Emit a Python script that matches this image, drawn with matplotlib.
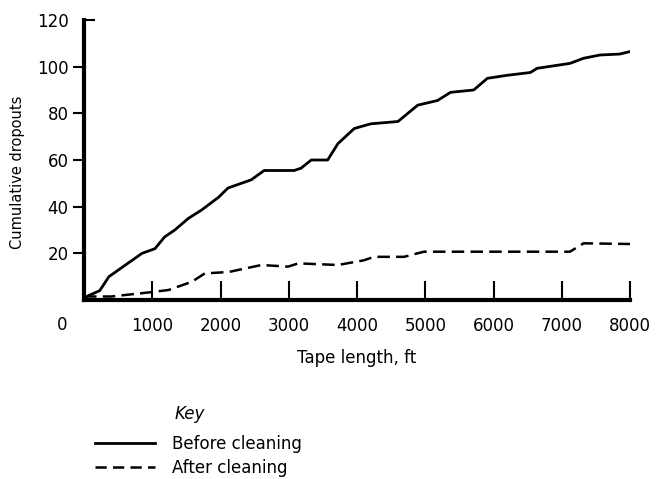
import matplotlib
matplotlib.use("Agg")
import matplotlib.pyplot as plt
from matplotlib.lines import Line2D, TICKRIGHT

# tape length (ft) / cumulative dropouts
before_x = [0, 230, 365, 850, 1040, 1180, 1330, 1530, 1720, 1970, 2110, 2450,
            2640, 3080, 3180, 3330, 3570, 3720, 3960, 4200, 4600, 4890, 5180,
            5370, 5710, 5910, 6200, 6540, 6640, 7120, 7320, 7560, 7850, 8030]
before_y = [1, 4, 10, 20, 22, 27, 30, 35, 38.5, 44, 48, 51.5,
            55.5, 55.5, 56.5, 60, 60, 67, 73.5, 75.5, 76.5, 83.5, 85.5,
            89, 90, 95, 96.3, 97.5, 99.3, 101.4, 103.6, 105, 105.4, 106.7]

after_x = [0, 400, 1000, 1240, 1580, 1770, 2120, 2600, 2990, 3140, 3720,
           4100, 4250, 4690, 4980, 7120, 7320, 8000]
after_y = [1.5, 1.5, 3.4, 4.3, 7.8, 11.4, 12, 15, 14.3, 15.7, 15,
           17, 18.5, 18.5, 20.7, 20.7, 24.3, 24]

xticks = [1000, 2000, 3000, 4000, 5000, 6000, 7000, 8000]
yticks = [20, 40, 60, 80, 100, 120]
labels = ['Before cleaning', 'After cleaning']

plt.rcParams['font.family'] = ['DejaVu Sans']

fig = plt.figure(figsize=(6.64, 4.79), dpi=100)
ax = fig.add_axes([84 / 664, 179 / 479, 546 / 664, 280 / 479])

dash = (5, 2.5)
ax.plot(before_x, before_y, color='black', lw=2.0, solid_capstyle='round')
ax.plot(after_x, after_y, color='black', lw=1.8, dashes=dash)

ax.set_xlim(0, 8000)
ax.set_ylim(0, 120)
ax.set_xticks(xticks)
ax.set_yticks(yticks)

for s in ['top', 'right']:
    ax.spines[s].set_visible(False)
ax.spines['left'].set_linewidth(3.0)
ax.spines['bottom'].set_linewidth(3.0)

ax.tick_params(axis='x', direction='in', length=14, width=1.5, labelsize=12, pad=12)
ax.tick_params(axis='y', direction='out', length=8, width=1.5, labelsize=12, pad=3)
# top tick at 120 points into the plot
ax.yaxis.get_major_ticks()[-1].tick1line.set_marker(TICKRIGHT)

ax.set_xlabel('Tape length, ft', fontsize=12, labelpad=10)
ax.set_ylabel('Cumulative dropouts', fontsize=10.5)
ax.yaxis.set_label_coords(-0.108, 0.457)

# origin label
ax.text(-0.04, -0.09, '0', transform=ax.transAxes, fontsize=12,
        ha='center', va='center')

fig.text(175 / 664, 1 - 414 / 479, 'Key', fontsize=12, style='italic',
         ha='left', va='center')
handles = [Line2D([], [], color='black', lw=2.0),
           Line2D([], [], color='black', lw=1.8, dashes=(4.5, 2.5))]
leg = fig.legend(handles, labels,
                 loc='upper left', bbox_to_anchor=(95 / 664, 1 - 435 / 479),
                 frameon=False, fontsize=12, handlelength=3.6,
                 handletextpad=1.0, labelspacing=0.35,
                 borderpad=0, borderaxespad=0)

fig.savefig('out.png', dpi=100)
